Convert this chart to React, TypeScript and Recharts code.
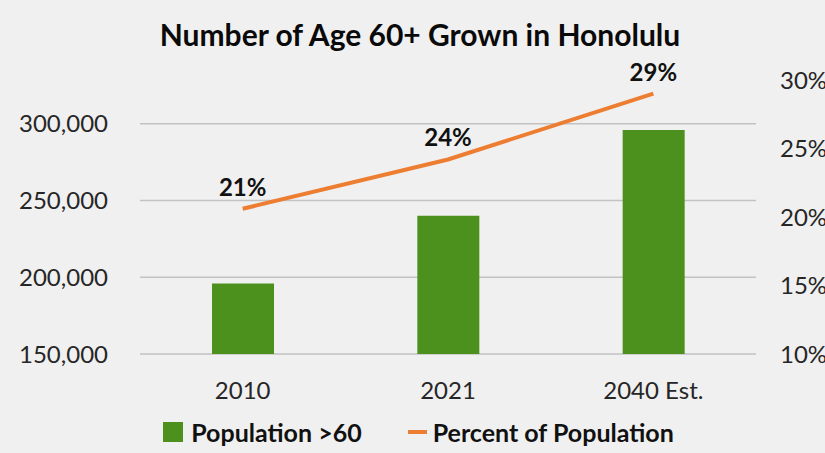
import React from "react"
import {
  Bar,
  CartesianGrid,
  ComposedChart,
  LabelList,
  Legend,
  Line,
  XAxis,
  YAxis,
} from "recharts"

const years = ["2010", "2021", "2040 Est."]
const population = [196000, 240000, 296000]
const percent = [0.206, 0.242, 0.29]
const leftTicks = [150000, 200000, 250000, 300000]
const rightTicks = [0.1, 0.15, 0.2, 0.25, 0.3]

const GREEN = "#4C901E"
const ORANGE = "#ED7D31"
const FONT = "Lato, 'Open Sans', sans-serif"

const data = years.map((year, i) => ({
  year,
  population: population[i],
  percent: percent[i],
}))

function LegendContent() {
  return (
    <div
      style={{
        display: "flex",
        justifyContent: "center",
        alignItems: "center",
        height: 30,
        fontFamily: FONT,
        fontWeight: 700,
        fontSize: 25,
        color: "#111",
        paddingLeft: 12,
      }}
    >
      <span style={{ display: "inline-block", width: 20, height: 20, background: GREEN, marginRight: 8 }} />
      <span style={{ marginRight: 46 }}>Population &gt;60</span>
      <span style={{ display: "inline-block", width: 19, height: 4, background: ORANGE, marginRight: 6 }} />
      <span>Percent of Population</span>
    </div>
  )
}

export default function App() {
  return (
    <div
      style={{
        position: "absolute",
        left: 0,
        top: 0,
        width: 825,
        height: 453,
        background: "#f0f0f0",
        overflow: "hidden",
      }}
    >
      <div
        style={{
          position: "absolute",
          top: 16,
          left: 0,
          width: 840,
          textAlign: "center",
          fontFamily: FONT,
          fontWeight: 700,
          fontSize: 30,
          color: "#0a0a0a",
        }}
      >
        Number of Age 60+ Grown in Honolulu
      </div>
      <ComposedChart
        width={825}
        height={453}
        data={data}
        margin={{ top: 80, right: 0, left: 0, bottom: 6 }}
        style={{ fontFamily: FONT }}
      >
        <CartesianGrid
          yAxisId="left"
          vertical={false}
          horizontalValues={leftTicks}
          stroke="#c2c2c2"
          strokeWidth={1.5}
        />
        <XAxis
          dataKey="year"
          axisLine={false}
          tickLine={false}
          tick={{ fontSize: 24, fill: "#262626" }}
          tickMargin={22}
          height={63}
        />
        <YAxis
          yAxisId="left"
          domain={[150000, 328500]}
          ticks={leftTicks}
          allowDataOverflow
          axisLine={false}
          tickLine={false}
          tickSize={0}
          tickMargin={32}
          width={140}
          tick={{ fontSize: 24, fill: "#262626" }}
          tickFormatter={(v: number) => v.toLocaleString("en-US")}
        />
        <YAxis
          yAxisId="right"
          orientation="right"
          domain={[0.1, 0.3]}
          ticks={rightTicks}
          axisLine={false}
          tickLine={false}
          tickSize={0}
          tickMargin={24}
          width={69}
          tick={{ fontSize: 24, fill: "#262626" }}
          tickFormatter={(v: number) => `${Math.round(v * 100)}%`}
        />
        <Legend verticalAlign="bottom" content={<LegendContent />} />
        <Bar
          yAxisId="left"
          dataKey="population"
          name="Population >60"
          fill={GREEN}
          barSize={62}
          isAnimationActive={false}
        />
        <Line
          yAxisId="right"
          dataKey="percent"
          name="Percent of Population"
          stroke={ORANGE}
          strokeWidth={4}
          dot={false}
          isAnimationActive={false}
        >
          <LabelList
            dataKey="percent"
            position="top"
            offset={13}
            style={{ fontSize: 24, fontWeight: 700, fill: "#111" }}
            formatter={(v: number) => `${Math.round(v * 100)}%`}
          />
        </Line>
      </ComposedChart>
    </div>
  )
}
